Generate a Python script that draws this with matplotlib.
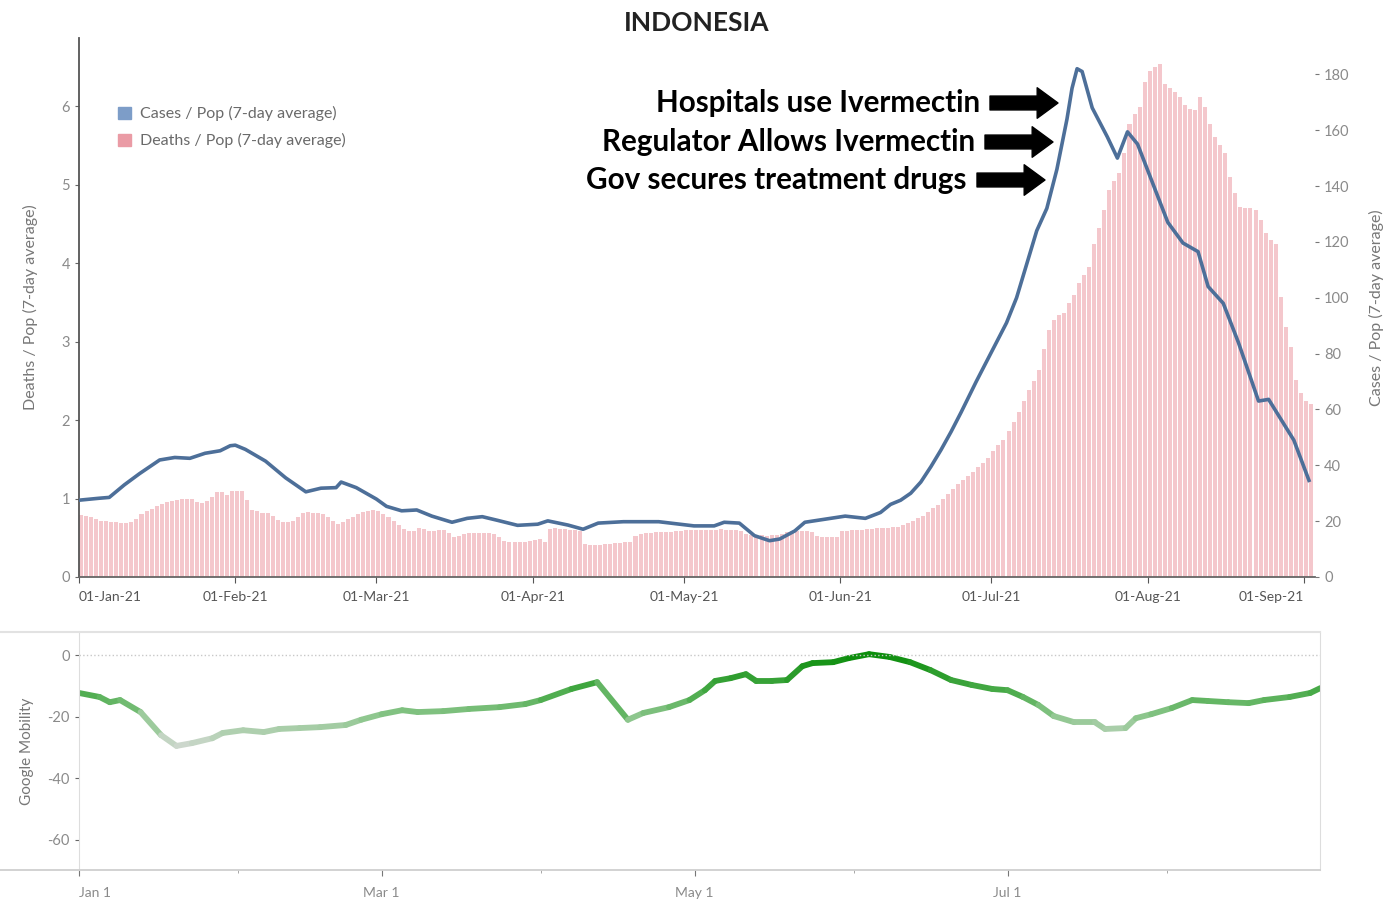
import matplotlib
matplotlib.use('Agg')
import matplotlib.pyplot as plt
import matplotlib.dates as mdates
from matplotlib.collections import LineCollection
from matplotlib.colors import LinearSegmentedColormap, Normalize
from matplotlib.lines import Line2D
from matplotlib.patches import Patch
import numpy as np
import pandas as pd

plt.rcParams['font.family'] = ['Lato', 'DejaVu Sans']
plt.rcParams['axes.unicode_minus'] = False

start = pd.Timestamp('2021-01-01')
title = 'INDONESIA'

# Deaths / Pop (7-day average), one bar per day from 01-Jan-21
deaths = [
    0.79, 0.78, 0.76, 0.74, 0.72, 0.71, 0.70, 0.70, 0.69, 0.69,
    0.70, 0.74, 0.80, 0.84, 0.87, 0.90, 0.93, 0.95, 0.97, 0.98,
    0.99, 1.00, 0.99, 0.96, 0.94, 0.97, 1.02, 1.08, 1.08, 1.05,
    1.09, 1.10, 1.10, 0.98, 0.86, 0.84, 0.82, 0.81, 0.78, 0.73,
    0.70, 0.70, 0.71, 0.76, 0.82, 0.83, 0.82, 0.81, 0.80, 0.76,
    0.72, 0.68, 0.70, 0.74, 0.77, 0.80, 0.83, 0.84, 0.85, 0.84,
    0.80, 0.77, 0.72, 0.66, 0.61, 0.58, 0.59, 0.62, 0.61, 0.58,
    0.59, 0.60, 0.60, 0.56, 0.51, 0.52, 0.55, 0.56, 0.56, 0.56,
    0.56, 0.56, 0.55, 0.51, 0.46, 0.45, 0.45, 0.45, 0.45, 0.46,
    0.47, 0.48, 0.45, 0.61, 0.62, 0.61, 0.61, 0.60, 0.60, 0.59,
    0.42, 0.41, 0.41, 0.41, 0.42, 0.42, 0.43, 0.43, 0.44, 0.45,
    0.52, 0.55, 0.56, 0.56, 0.57, 0.57, 0.57, 0.57, 0.58, 0.59,
    0.60, 0.60, 0.60, 0.60, 0.60, 0.60, 0.60, 0.61, 0.60, 0.60,
    0.60, 0.58, 0.55, 0.53, 0.53, 0.53, 0.52, 0.53, 0.53, 0.55,
    0.57, 0.58, 0.58, 0.58, 0.58, 0.57, 0.52, 0.51, 0.51, 0.51,
    0.51, 0.58, 0.59, 0.60, 0.60, 0.60, 0.61, 0.61, 0.62, 0.62,
    0.63, 0.64, 0.64, 0.66, 0.69, 0.72, 0.75, 0.78, 0.83, 0.88,
    0.92, 1.00, 1.06, 1.12, 1.18, 1.24, 1.29, 1.34, 1.40, 1.45,
    1.52, 1.60, 1.68, 1.75, 1.86, 1.98, 2.10, 2.24, 2.38, 2.50,
    2.64, 2.90, 3.15, 3.28, 3.34, 3.36, 3.49, 3.60, 3.75, 3.85,
    3.95, 4.25, 4.45, 4.68, 4.93, 5.05, 5.15, 5.40, 5.78, 5.90,
    5.99, 6.31, 6.45, 6.50, 6.54, 6.29, 6.23, 6.18, 6.12, 6.01,
    5.97, 5.95, 6.12, 5.99, 5.78, 5.61, 5.50, 5.40, 5.10, 4.89,
    4.72, 4.70, 4.70, 4.68, 4.55, 4.38, 4.30, 4.25, 3.57, 3.19,
    2.93, 2.51, 2.34, 2.24, 2.20,
]

# Cases / Pop (7-day average), read at these day offsets from 01-Jan-21
case_days = [0, 4, 6, 9, 12, 16, 19, 22, 25, 28, 30, 31, 33, 37, 41, 45, 48,
             51, 52, 55, 59, 61, 64, 67, 70, 74, 77, 80, 83, 87, 91, 93, 97,
             100, 103, 108, 115, 122, 126, 128, 131, 134, 137, 139, 142, 144,
             148, 152, 156, 159, 161, 163, 165, 167, 169, 171, 173, 175, 178,
             180, 182, 184, 186, 187, 189, 190, 192, 194, 196, 197, 198, 199,
             201, 204, 206, 208, 210, 213, 216, 219, 222, 224, 227, 230, 234,
             236, 241, 244]
cases = [27.5, 28.2, 28.5, 33.0, 37.0, 41.9, 42.8, 42.5, 44.3, 45.2, 47.0,
         47.2, 45.7, 41.5, 35.5, 30.5, 31.8, 32.0, 34.0, 32.0, 27.9, 25.3,
         23.7, 24.0, 21.8, 19.6, 21.0, 21.6, 20.3, 18.5, 18.9, 20.1, 18.6,
         17.1, 19.3, 19.8, 19.8, 18.3, 18.3, 19.6, 19.3, 14.8, 13.0, 13.6,
         16.5, 19.6, 20.7, 21.8, 21.0, 23.1, 26.0, 27.5, 30.0, 34.0, 39.5,
         45.5, 52.0, 59.0, 70.0, 77.0, 84.0, 91.0, 100.0, 106.0, 118.0, 124.0,
         132.0, 146.0, 164.0, 175.0, 182.0, 181.0, 168.0, 157.6, 150.0, 159.4,
         155.0, 141.0, 127.0, 119.6, 116.5, 104.0, 98.0, 84.0, 63.0, 63.6,
         49.0, 34.6]

# Google Mobility, read at these day offsets from Jan 1
mob_days = [0, 4, 6, 8, 12, 16, 19, 22, 26, 28, 32, 36, 39, 43, 47, 52, 55,
            59, 63, 66, 71, 76, 82, 87, 90, 96, 101, 107, 110, 115, 119, 122,
            124, 127, 130, 132, 135, 138, 141, 143, 147, 150, 154, 158, 162,
            166, 170, 174, 178, 181, 184, 187, 190, 194, 198, 200, 204, 206,
            209, 213, 217, 220, 224, 228, 231, 236, 240, 242]
mobility = [-12.3, -13.6, -15.3, -14.6, -18.5, -26.0, -29.5, -28.6, -27.0,
            -25.3, -24.4, -25.0, -24.0, -23.7, -23.4, -22.7, -21.0, -19.2,
            -17.9, -18.5, -18.2, -17.5, -16.9, -15.9, -14.6, -11.0, -8.8,
            -21.0, -18.8, -16.9, -14.6, -11.4, -8.4, -7.5, -6.2, -8.4, -8.4,
            -8.1, -3.6, -2.6, -2.3, -1.0, 0.3, -0.6, -2.3, -4.9, -8.1, -9.7,
            -11.0, -11.4, -13.6, -16.2, -19.8, -21.8, -21.8, -24.0, -23.7,
            -20.5, -19.2, -17.2, -14.6, -14.9, -15.3, -15.6, -14.6, -13.6,
            -12.3, -10.7]

notes = ['Hospitals use Ivermectin', 'Regulator Allows Ivermectin',
         'Gov secures treatment drugs']

W, H = 1400, 905
fig = plt.figure(figsize=(W / 100, H / 100), dpi=100)


def box(x0, y0, x1, y1):
    # pixel box (top-left origin) -> figure fraction rect
    return [x0 / W, 1 - y1 / H, (x1 - x0) / W, (y1 - y0) / H]


grey = '#8a8a8a'
death_dates = pd.date_range(start, periods=len(deaths), freq='D')
case_dates = start + pd.to_timedelta(case_days, unit='D')

# ---- top panel ----
ax = fig.add_axes(box(79, 38, 1315, 577))
ax.bar(death_dates, deaths, width=0.8, align='edge', color='#f4c7cc', linewidth=0)
ax.set_ylim(0, 6.87)
ax.set_yticks(range(7))
ax.set_xlim(mdates.date2num(start), mdates.date2num(start) + 245.2)
ax.xaxis.set_major_locator(mdates.MonthLocator())
ax.xaxis.set_major_formatter(mdates.DateFormatter('%d-%b-%y'))
ax.tick_params(axis='x', colors='#555', labelcolor='#555', labelsize=10,
               length=4, pad=6)
ax.tick_params(axis='y', colors='#666', labelcolor=grey, labelsize=10.5, length=3)
for s in ['top', 'right']:
    ax.spines[s].set_visible(False)
ax.spines['left'].set_color('#555')
ax.spines['bottom'].set_color('#666')
ax.spines['left'].set_linewidth(1.3)
ax.spines['bottom'].set_linewidth(1.3)
ax.set_ylabel('Deaths / Pop (7-day average)', color='#777', fontsize=11.5, labelpad=17)

ax2 = ax.twinx()
ax2.plot(case_dates, cases, color='#4d6f99', lw=2.6, solid_joinstyle='round')
ax2.set_ylim(0, 193)
ax2.set_yticks(range(0, 181, 20))
for s in ['top', 'right', 'left', 'bottom']:
    ax2.spines[s].set_visible(False)
ax2.tick_params(axis='y', colors='#777', labelcolor=grey, labelsize=10.5, length=3)
ax2.set_ylabel('Cases / Pop (7-day average)', color='#777', fontsize=11.5, labelpad=14)

handles = [Patch(color='#7d9dc8', label='Cases / Pop (7-day average)'),
           Patch(color='#ea9ba5', label='Deaths / Pop (7-day average)')]
leg = ax.legend(handles=handles, loc='upper left', bbox_to_anchor=(0.02, 0.9),
                frameon=False, fontsize=11.5, handlelength=0.8, handleheight=0.8,
                handletextpad=0.6, labelspacing=0.75, labelcolor='#6a6a6a')

fig.text(697 / W, 1 - 23 / H, title, ha='center', va='center',
         fontsize=19, fontweight='bold', color='#222')

note_pos = [(980, 103), (975, 142), (967, 180)]
for txt, (xr, yc) in zip(notes, note_pos):
    fig.text(xr / W, 1 - yc / H, txt, ha='right', va='center',
             fontsize=21.3, fontweight='bold', color='black')
    ax.annotate('', xy=(xr + 78, H - yc), xytext=(xr + 10, H - yc),
                xycoords='figure pixels', textcoords='figure pixels',
                arrowprops=dict(arrowstyle='simple,head_length=1.5,head_width=2.2,tail_width=1.0',
                                mutation_scale=10, color='black', shrinkA=0, shrinkB=0))

# ---- bottom panel: Google Mobility ----
ax3 = fig.add_axes(box(79, 632, 1320, 870))
mob_x = mdates.date2num(start + pd.to_timedelta(mob_days, unit='D'))
pts = np.column_stack([mob_x, mobility]).reshape(-1, 1, 2)
segs = np.concatenate([pts[:-1], pts[1:]], axis=1)
seg_val = (np.array(mobility[:-1]) + np.array(mobility[1:])) / 2
cmap = LinearSegmentedColormap.from_list(
    'mob', [(0, '#d2d9d2'), (0.33, '#8fc78f'), (0.6, '#4aab4a'), (1, '#0c8e0c')])
lc = LineCollection(segs, cmap=cmap, norm=Normalize(-30, 0), linewidths=4.2,
                    capstyle='round', joinstyle='round')
lc.set_array(seg_val)
ax3.add_collection(lc)
ax3.axhline(0, color='#c8c8c8', lw=1, ls=':')
ax3.set_ylim(-69.8, 7.5)
ax3.set_yticks([0, -20, -40, -60])
ax3.set_xlim(mdates.date2num(start), mdates.date2num(start) + 241.9)
ax3.xaxis.set_major_locator(mdates.MonthLocator(bymonth=[1, 3, 5, 7]))
ax3.xaxis.set_minor_locator(mdates.MonthLocator(bymonth=[2, 4, 6, 8]))
ax3.xaxis.set_major_formatter(mdates.DateFormatter('%b %-d'))
ax3.tick_params(axis='x', which='major', colors='#777', labelcolor=grey,
                labelsize=10, length=4, pad=8)
ax3.tick_params(axis='x', which='minor', colors='#999', length=2)
ax3.tick_params(axis='y', colors='#666', labelcolor=grey, labelsize=10.5, length=3)
for s in ['top', 'bottom']:
    ax3.spines[s].set_visible(False)
ax3.spines['left'].set_color('#dddddd')
ax3.spines['right'].set_color('#dddddd')
ax3.set_ylabel('Google Mobility', color='#777', fontsize=11, labelpad=10)

fig.canvas.draw()
ax3.get_xticklabels()[0].set_ha('left')
top_labels = ax.get_xticklabels()
top_labels[0].set_ha('left')
top_labels[-1].set_ha('right')
top_labels[-1].set_x(top_labels[-1].get_position()[0])

fig.add_artist(Line2D([0, 1320 / W], [1 - 632 / H] * 2, color='#e2e2e2', lw=1.5))
fig.add_artist(Line2D([0, 1320 / W], [1 - 870 / H] * 2, color='#cfcfcf', lw=1.3))

fig.savefig('out.png', dpi=100)
